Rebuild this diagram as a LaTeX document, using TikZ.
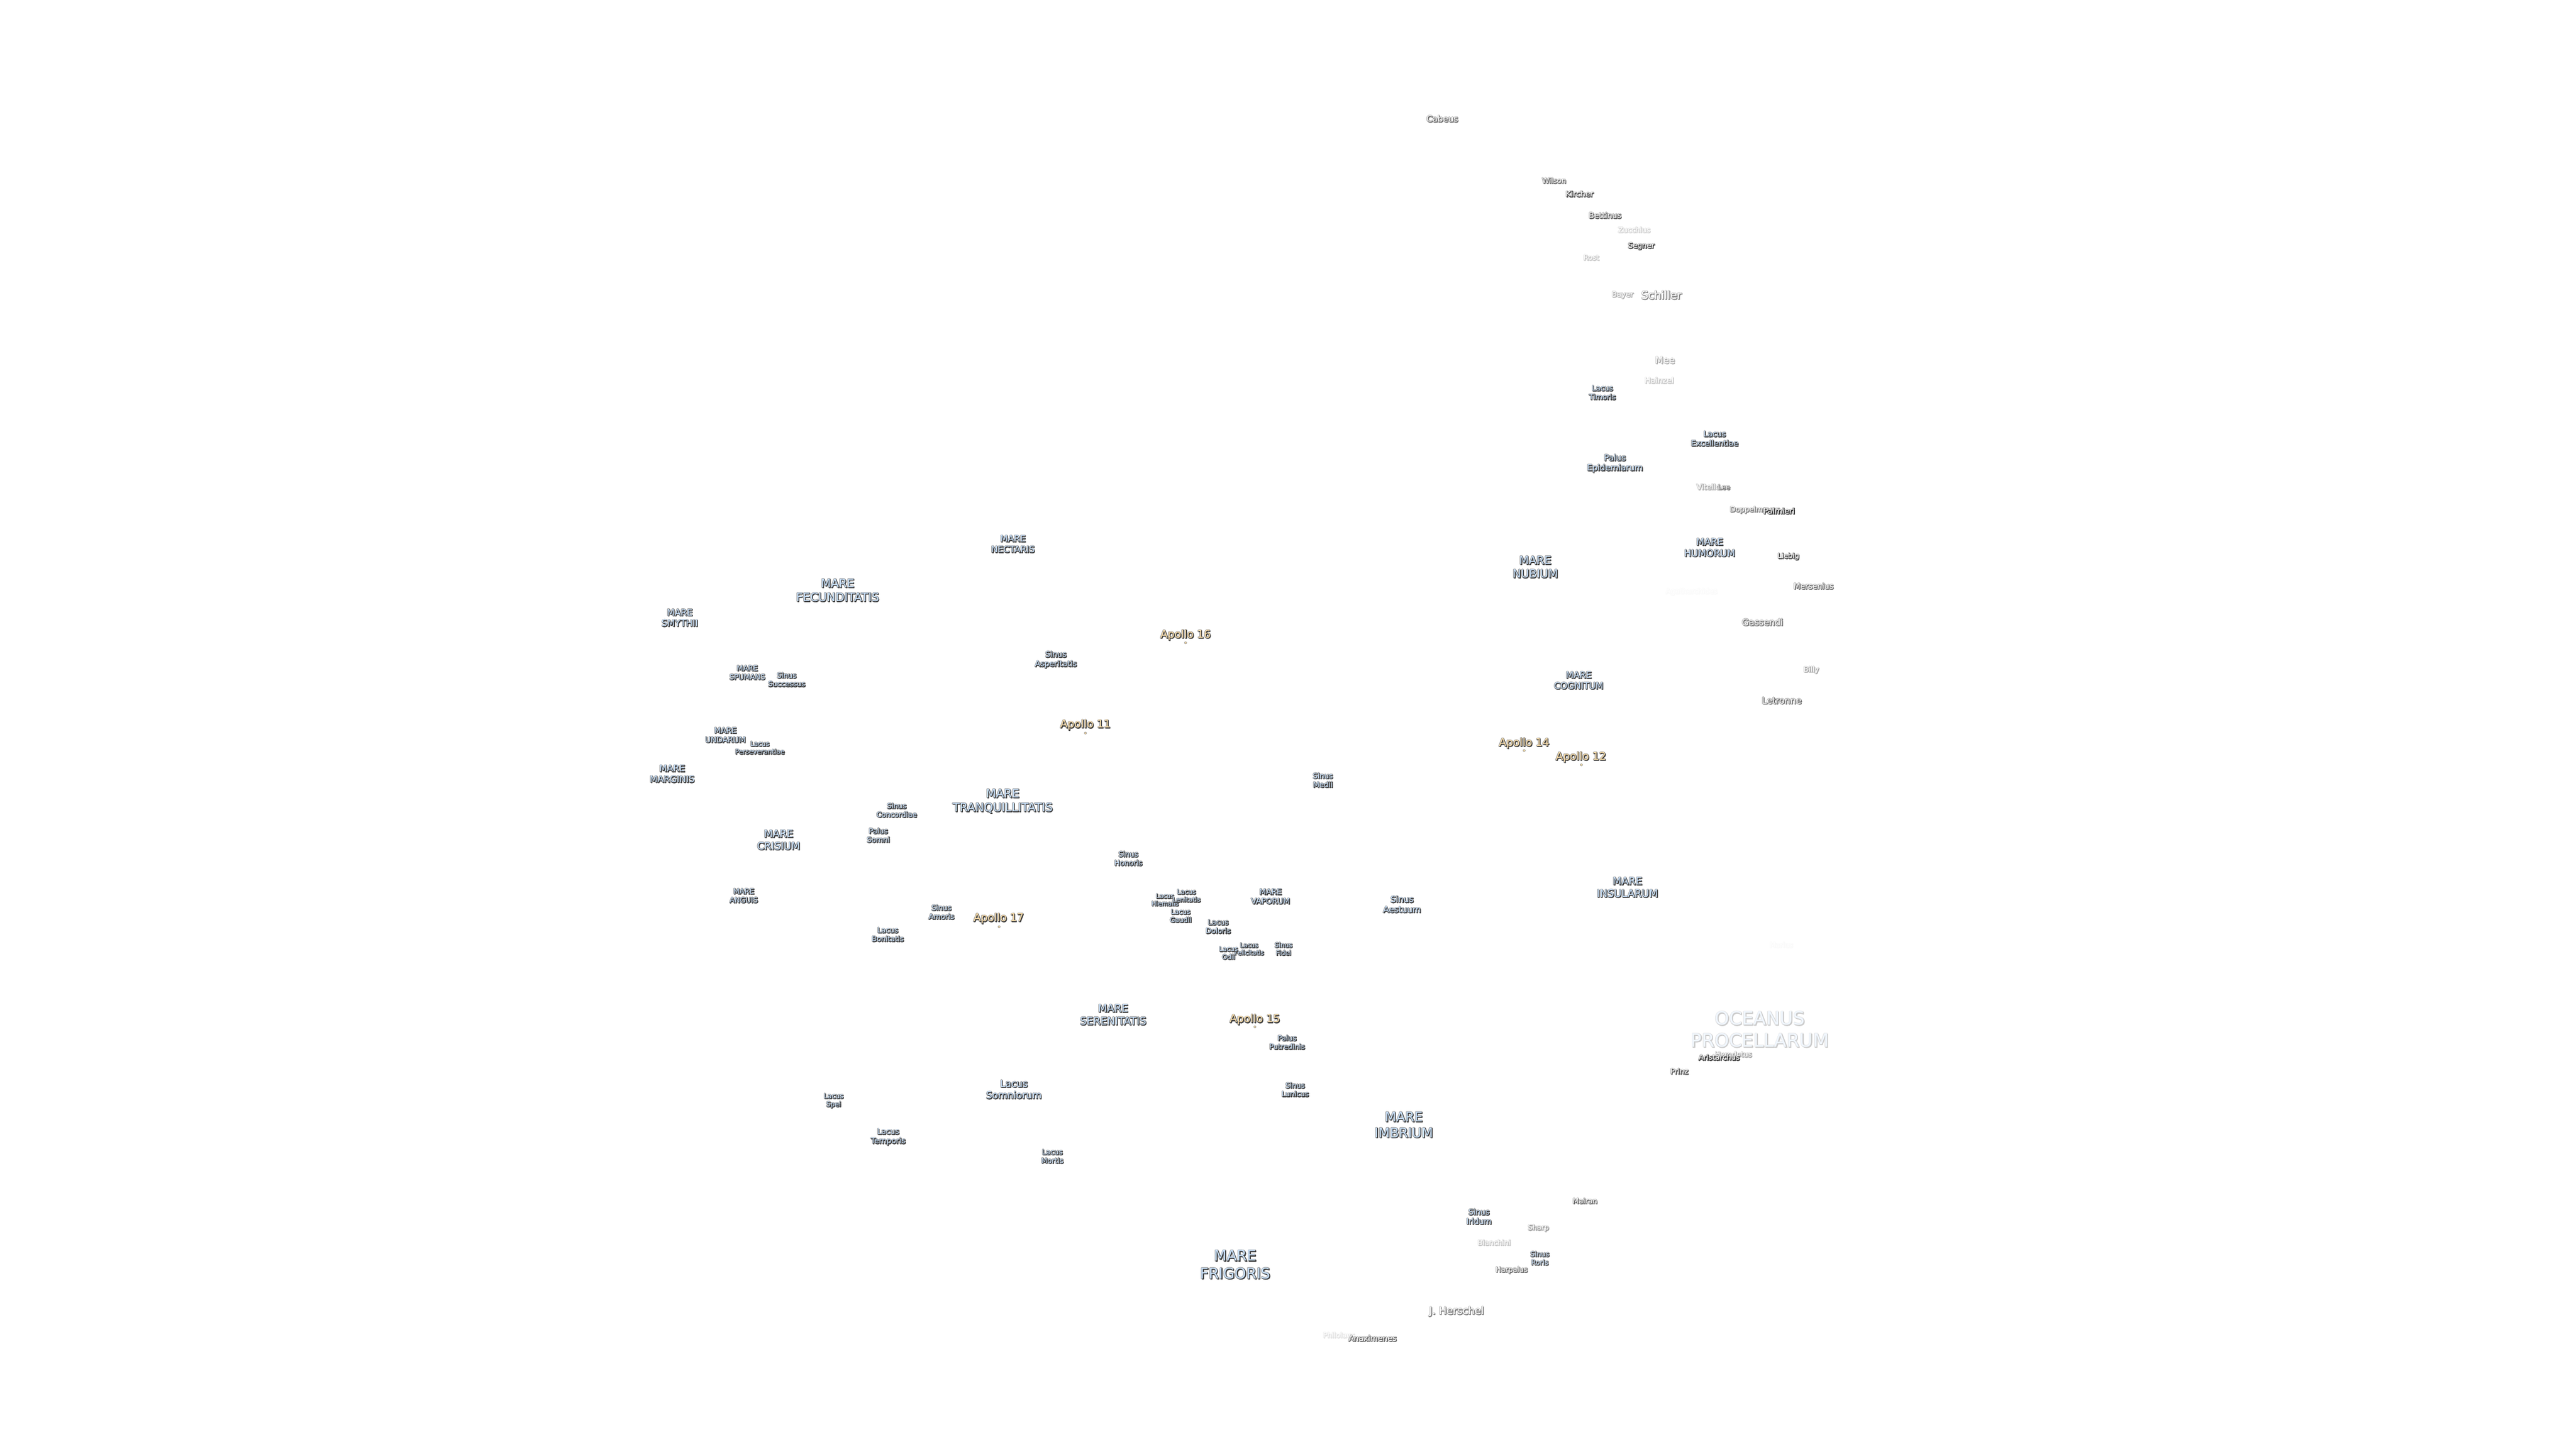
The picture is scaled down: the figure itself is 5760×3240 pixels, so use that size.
\documentclass[tikz,border=0pt]{standalone}
\usepackage{fontspec}
\setmainfont{DejaVu Sans}
\definecolor{mareC}{HTML}{C6DFFA}
\definecolor{apC}{HTML}{FADCA6}
\definecolor{crC}{HTML}{FFFFFF}
\definecolor{oceC}{HTML}{C6DFFA}
\newcommand\gtext[2]{\fontsize{#1}{\the\dimexpr#1pt*12/10\relax}\selectfont\begin{tabular}{@{}c@{}}#2\end{tabular}}
\newcommand\glab[4]{%
  \colorlet{gfill}{#3!#2!white}%
  \colorlet{ghalo}{black!\the\numexpr#2*38/100\relax!white}%
  \colorlet{gshad}{black!\the\numexpr#2*78/100\relax!white}%
  \leavevmode
  \rlap{\color{ghalo}\special{pdf:code 1 j 2 Tr 3.2 w}\gtext{#1}{#4}\special{pdf:code 0 Tr 1 w}}%
  \rlap{\hspace{1.3pt}\raisebox{-1.3pt}{\color{gshad}\special{pdf:code 1 j 2 Tr 1.1 w}\gtext{#1}{#4}\special{pdf:code 0 Tr 1 w}}}%
  {\color{gfill}\gtext{#1}{#4}}}
\tikzset{lab/.style={inner sep=0pt,outer sep=0pt,anchor=center},
  sitedot/.style={circle,fill=apC,draw=black!45,line width=0.8pt,minimum size=5pt,inner sep=0pt}}
\begin{document}
\begin{tikzpicture}[x=1pt,y=-1pt]
\useasboundingbox (0,0) rectangle (5760,3240);
\fill[white] (0,0) rectangle (5760,3240);
\begin{scope}[shift={(0,3.5)}]
% craters, south
\node[lab] (cabeus) at (3225,265) {\glab{19}{72}{crC}{Cabeus}};
\node[lab] (wilson) at (3475,403) {\glab{16.3}{72}{crC}{Wilson}};
\node[lab] (kircher) at (3532,433) {\glab{17.5}{85}{crC}{Kircher}};
\node[lab] (bettinus) at (3589,481) {\glab{17.5}{80}{crC}{Bettinus}};
\node[lab] (zucchius) at (3654,513) {\glab{16}{24}{crC}{Zucchius}};
\node[lab] (segner) at (3670,548) {\glab{16.6}{97}{crC}{Segner}};
\node[lab] (rost) at (3558,575) {\glab{16}{28}{crC}{Rost}};
\node[lab] (bayer) at (3628,657) {\glab{16.4}{40}{crC}{Bayer}};
\node[lab] (schiller) at (3715,660) {\glab{24.5}{60}{crC}{Schiller}};
\node[lab] (mee) at (3723,805) {\glab{21}{38}{crC}{Mee}};
\node[lab] (hainzel) at (3710,850) {\glab{17.5}{25}{crC}{Hainzel}};
\node[lab] (timoris) at (3583,877) {\glab{16.4}{95}{mareC}{Lacus\\Timoris}};
\node[lab] (excell) at (3834,980) {\glab{17.4}{95}{mareC}{Lacus\\Excellentiae}};
\node[lab] (epidem) at (3611,1034) {\glab{18.7}{95}{mareC}{Palus\\Epidemiarum}};
\node[lab] (vitello) at (3820,1088) {\glab{17}{38}{crC}{Vitello}};
\node[lab] (lee) at (3855,1088) {\glab{15}{70}{crC}{Lee}};
\node[lab] (doppel) at (3923,1138) {\glab{16.2}{60}{crC}{Doppelmayer}};
\node[lab] (palmieri) at (3978,1142) {\glab{17.5}{100}{crC}{Palmieri}};
\node[lab] (humorum) at (3823,1224) {\glab{21}{97}{mareC}{MARE\\HUMORUM}};
\node[lab] (liebig) at (3999,1242) {\glab{16}{90}{crC}{Liebig}};
\node[lab] (nubium) at (3433,1268) {\glab{25}{97}{mareC}{MARE\\NUBIUM}};
\node[lab] (mersenius) at (4055,1310) {\glab{17.5}{75}{crC}{Mersenius}};
\node[lab] (agathar) at (3782,1321) {\glab{16}{3}{crC}{Agatharchides}};
\node[lab] (gassendi) at (3941,1391) {\glab{20}{68}{crC}{Gassendi}};
\node[lab] (billy) at (4050,1496) {\glab{16.3}{42}{crC}{Billy}};
\node[lab] (cognitum) at (3530,1521) {\glab{20}{97}{mareC}{MARE\\COGNITUM}};
\node[lab] (letronne) at (3984,1566) {\glab{20}{74}{crC}{Letronne}};
% east
\node[lab] (nectaris) at (2265,1216) {\glab{19.8}{97}{mareC}{MARE\\NECTARIS}};
\node[lab] (fecund) at (1873,1320) {\glab{26}{97}{mareC}{MARE\\FECUNDITATIS}};
\node[lab] (smythii) at (1520,1381) {\glab{20}{97}{mareC}{MARE\\SMYTHII}};
\node[lab] (spumans) at (1671,1503) {\glab{16.3}{97}{mareC}{MARE\\SPUMANS}};
\node[lab] (success) at (1759,1519) {\glab{16}{97}{mareC}{Sinus\\Successus}};
\node[lab] (asperit) at (2361,1473) {\glab{17.5}{97}{mareC}{Sinus\\Asperitatis}};
\node[lab] (undarum) at (1622,1643) {\glab{17.4}{97}{mareC}{MARE\\UNDARUM}};
\node[lab] (persev) at (1699,1671) {\glab{14.7}{97}{mareC}{Lacus\\Perseverantiae}};
\node[lab] (marginis) at (1503,1730) {\glab{20}{97}{mareC}{MARE\\MARGINIS}};
\node[lab] (tranq) at (2242,1790) {\glab{26}{97}{mareC}{MARE\\TRANQUILLITATIS}};
\node[lab] (concord) at (2005,1811) {\glab{16}{97}{mareC}{Sinus\\Concordiae}};
\node[lab] (somni) at (1964,1867) {\glab{16.3}{97}{mareC}{Palus\\Somni}};
\node[lab] (crisium) at (1741,1878) {\glab{22.8}{97}{mareC}{MARE\\CRISIUM}};
\node[lab] (anguis) at (1663,2002) {\glab{16.3}{97}{mareC}{MARE\\ANGUIS}};
\node[lab] (amoris) at (2105,2039) {\glab{16.4}{97}{mareC}{Sinus\\Amoris}};
\node[lab] (bonit) at (1985,2089) {\glab{16.2}{97}{mareC}{Lacus\\Bonitatis}};
% centre
\node[lab] (honoris) at (2523,1919) {\glab{16.3}{97}{mareC}{Sinus\\Honoris}};
\node[lab] (hiemalis) at (2605,2011) {\glab{14}{97}{mareC}{Lacus\\Hiemalis}};
\node[lab] (lenit) at (2653,2002) {\glab{14.6}{97}{mareC}{Lacus\\Lenitatis}};
\node[lab] (vaporum) at (2841,2004) {\glab{17.4}{97}{mareC}{MARE\\VAPORUM}};
\node[lab] (gaudii) at (2640,2047) {\glab{15}{97}{mareC}{Lacus\\Gaudii}};
\node[lab] (doloris) at (2724,2071) {\glab{16}{97}{mareC}{Lacus\\Doloris}};
\node[lab] (felicit) at (2793,2121) {\glab{14}{97}{mareC}{Lacus\\Felicitatis}};
\node[lab] (fidei) at (2870,2121) {\glab{14.6}{97}{mareC}{Sinus\\Fidei}};
\node[lab] (odii) at (2747,2130) {\glab{14.6}{97}{mareC}{Lacus\\Odii}};
\node[lab] (aestuum) at (3135,2022) {\glab{19}{97}{mareC}{Sinus\\Aestuum}};
\node[lab] (medii) at (2958,1744) {\glab{16.5}{97}{mareC}{Sinus\\Medii}};
\node[lab] (insularum) at (3639,1984) {\glab{23}{97}{mareC}{MARE\\INSULARUM}};
\node[lab] (serenit) at (2489,2269) {\glab{23.5}{97}{mareC}{MARE\\SERENITATIS}};
\node[lab] (somnior) at (2267,2436) {\glab{21.5}{97}{mareC}{Lacus\\Somniorum}};
\node[lab] (spei) at (1864,2459) {\glab{15.2}{97}{mareC}{Lacus\\Spei}};
\node[lab] (tempor) at (1986,2540) {\glab{17.2}{97}{mareC}{Lacus\\Temporis}};
\node[lab] (mortis) at (2353,2585) {\glab{16}{97}{mareC}{Lacus\\Mortis}};
\node[lab] (putred) at (2878,2330) {\glab{16}{97}{mareC}{Palus\\Putredinis}};
\node[lab] (lunicus) at (2896,2436) {\glab{16}{97}{mareC}{Sinus\\Lunicus}};
\node[lab] (imbrium) at (3139,2516) {\glab{29.5}{97}{mareC}{MARE\\IMBRIUM}};
\node[lab] (frigoris) at (2762,2829) {\glab{33}{97}{mareC}{MARE\\FRIGORIS}};
% north-west
\node[lab] (marius) at (3983,2112) {\glab{15.6}{3}{crC}{Marius}};
\node[lab] (oceanus) at (3935,2304) {\glab{41}{25}{oceC}{OCEANUS\\PROCELLARUM}};
\node[lab] (herodot) at (3876,2357) {\glab{16}{45}{crC}{Herodotus}};
\node[lab] (aristar) at (3844,2364) {\glab{16.3}{100}{crC}{Aristarchus}};
\node[lab] (prinz) at (3755,2395) {\glab{16.4}{80}{crC}{Prinz}};
\node[lab] (mairan) at (3544,2685) {\glab{16}{75}{crC}{Mairan}};
\node[lab] (iridum) at (3307,2720) {\glab{17.4}{97}{mareC}{Sinus\\Iridum}};
\node[lab] (sharp) at (3440,2744) {\glab{16}{48}{crC}{Sharp}};
\node[lab] (bianchini) at (3341,2778) {\glab{16}{27}{crC}{Bianchini}};
\node[lab] (roris) at (3443,2813) {\glab{15.6}{90}{mareC}{Sinus\\Roris}};
\node[lab] (harpalus) at (3380,2838) {\glab{16}{72}{crC}{Harpalus}};
\node[lab] (herschel) at (3257,2931) {\glab{23}{66}{crC}{J. Herschel}};
\node[lab] (philolaus) at (2994,2985) {\glab{16}{14}{crC}{Philolaus}};
\node[lab] (anaxim) at (3069,2992) {\glab{17.4}{80}{crC}{Anaximenes}};
% Apollo sites
\node[sitedot] (d11) at (2427,1636) {};
\node[sitedot] (d12) at (3536,1707) {};
\node[sitedot] (d14) at (3408,1675) {};
\node[sitedot] (d15) at (2806,2293) {};
\node[sitedot] (d16) at (2651,1434) {};
\node[sitedot] (d17) at (2234,2069) {};
\node[lab] (a11) at (2427,1619) {\glab{24}{97}{apC}{Apollo 11}};
\node[lab] (a12) at (3535,1691) {\glab{24}{97}{apC}{Apollo 12}};
\node[lab] (a14) at (3408,1660) {\glab{24}{97}{apC}{Apollo 14}};
\node[lab] (a15) at (2806,2278) {\glab{24}{97}{apC}{Apollo 15}};
\node[lab] (a16) at (2651,1418) {\glab{24}{97}{apC}{Apollo 16}};
\node[lab] (a17) at (2233,2052) {\glab{24}{97}{apC}{Apollo 17}};
\end{scope}
\end{tikzpicture}
\end{document}
